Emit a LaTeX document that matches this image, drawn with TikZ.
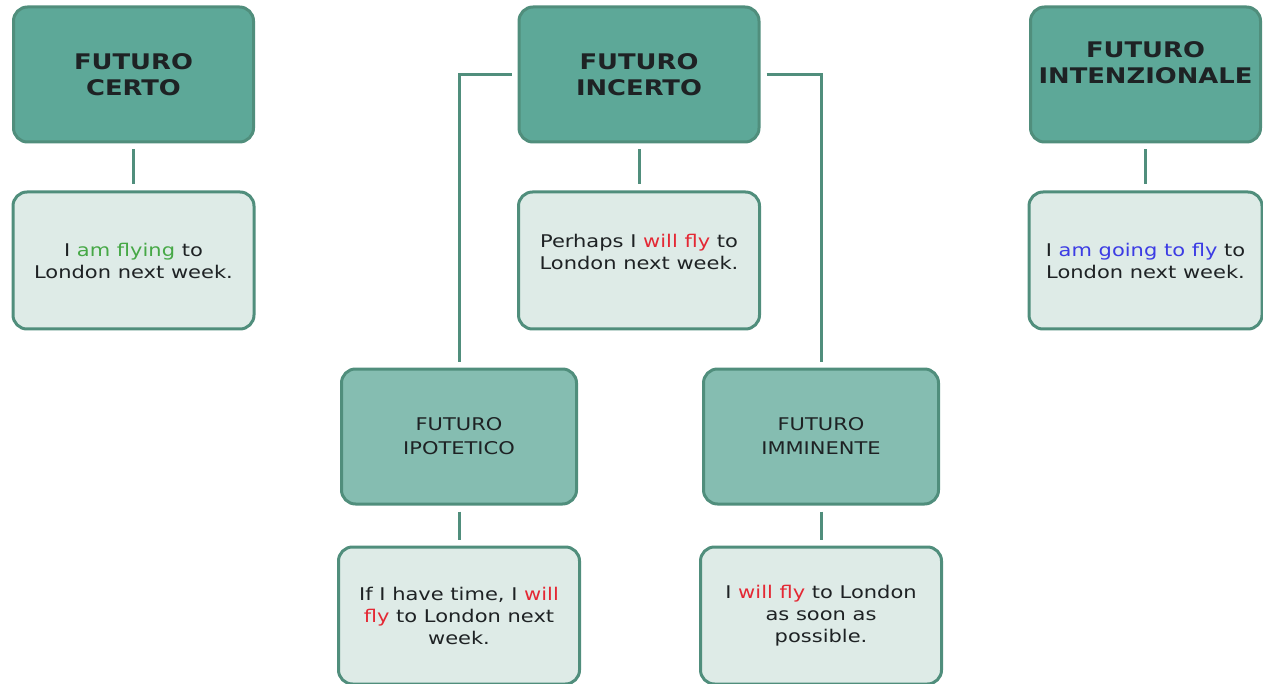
\documentclass[tikz,border=0pt]{standalone}
\usepackage{fontspec}
\setmainfont{DejaVu Sans}[FakeStretch=1.2]
\usetikzlibrary{positioning}
\definecolor{hdrfill}{RGB}{93,168,152}
\definecolor{subfill}{RGB}{133,189,177}
\definecolor{exfill}{RGB}{222,235,231}
\definecolor{boxline}{RGB}{80,142,124}
\definecolor{txtdark}{RGB}{30,34,36}
\definecolor{flygreen}{RGB}{70,168,70}
\definecolor{flyred}{RGB}{228,40,52}
\definecolor{flyblue}{RGB}{60,60,228}
\tikzset{hdr/.style={draw=boxline,line width=3pt,fill=hdrfill,rounded corners=14pt,
                     minimum width=240pt,minimum height=135pt,align=center,text=txtdark,
                     font=\fontsize{21.5}{26}\selectfont\bfseries},
         subhdr/.style={hdr,fill=subfill,minimum width=235pt,
                     font=\fontsize{17.5}{24}\selectfont},
         ex/.style={draw=boxline,line width=3pt,fill=exfill,rounded corners=14pt,
                     minimum width=241pt,minimum height=137pt,align=center,text=txtdark,
                     font=\fontsize{17.5}{22}\selectfont},
         link/.style={draw=boxline,line width=3pt,shorten <=6pt,shorten >=6pt}}

\begin{document}
\begin{tikzpicture}[x=1pt,y=-1pt]
\useasboundingbox (0,0) rectangle (1263,684);

\node[hdr] (certo) at (133.5,74.5) {FUTURO\\CERTO};
\node[ex,below=47pt of certo] (certoEx) {I \textcolor{flygreen}{am flying} to\\London next week.};

\node[hdr] (incerto) at (639,74.5) {FUTURO\\INCERTO};
\node[ex,below=47pt of incerto,text depth=18pt] (incertoEx) {Perhaps I \textcolor{flyred}{will fly} to\\London next week.};

\node[hdr,minimum width=230pt,text depth=24pt] (intenz) at (1145.5,74.5) {FUTURO\\INTENZIONALE};
\node[ex,below=47pt of intenz,minimum width=233pt] (intenzEx) {I \textcolor{flyblue}{am going to fly} to\\London next week.};

\node[subhdr] (ipotetico) at (459,436.5) {FUTURO\\IPOTETICO};
\node[ex,below=40pt of ipotetico] (ipoteticoEx) {If I have time, I \textcolor{flyred}{will}\\\textcolor{flyred}{fly} to London next\\week.};

\node[subhdr] (imminente) at (821,436.5) {FUTURO\\IMMINENTE};
\node[ex,below=40pt of imminente] (imminenteEx) {I \textcolor{flyred}{will fly} to London\\as soon as\\possible.};

\draw[link] (certo) -- (certoEx);
\draw[link] (incerto) -- (incertoEx);
\draw[link] (intenz) -- (intenzEx);
\draw[link] (ipotetico) -- (ipoteticoEx);
\draw[link] (imminente) -- (imminenteEx);
\draw[link] (incerto.west) -| (ipotetico.north);
\draw[link] (incerto.east) -| (imminente.north);
\end{tikzpicture}
\end{document}
